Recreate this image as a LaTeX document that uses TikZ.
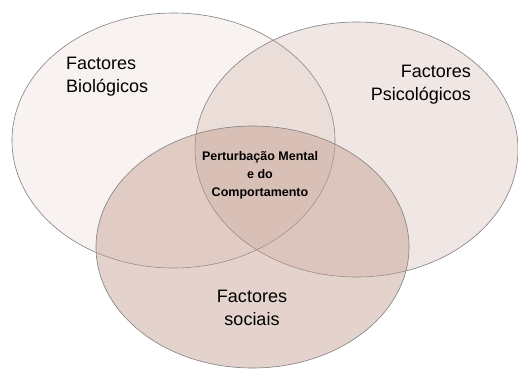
\documentclass[tikz,border=0pt]{standalone}
\usepackage{fontspec}
\setmainfont{Liberation Sans}
\begin{document}
\begin{tikzpicture}[x=1pt,y=-1pt,
  venn/.style={draw=black!50, line width=0.6pt, fill=vennc},
  big/.style={font=\fontsize{18}{23}\selectfont, inner sep=0pt},
  small/.style={font=\fontsize{12.5}{18}\selectfont\bfseries, inner sep=0pt, align=center}]
\definecolor{vennc}{HTML}{C39C8E}
\useasboundingbox (0,0) rectangle (518,369);
\path[venn, fill opacity=0.12] (173.5,140.5) ellipse [x radius=161.5, y radius=127.5];
\path[venn, fill opacity=0.25] (356.5,149.5) ellipse [x radius=161.5, y radius=127.5];
\path[venn, fill opacity=0.45] (252.5,247) ellipse [x radius=156.5, y radius=121];
\node[big, align=left, anchor=north west] (bio) at (66,57) {Factores\\Biológicos};
\node[big, align=right, anchor=north east] (psi) at (471,65) {Factores\\Psicológicos};
\node[big, align=center] (soc) at (252,308) {Factores\\sociais};
\node[small] (ctr) at (260,175) {Perturbação Mental\\e do\\Comportamento};
\end{tikzpicture}
\end{document}
